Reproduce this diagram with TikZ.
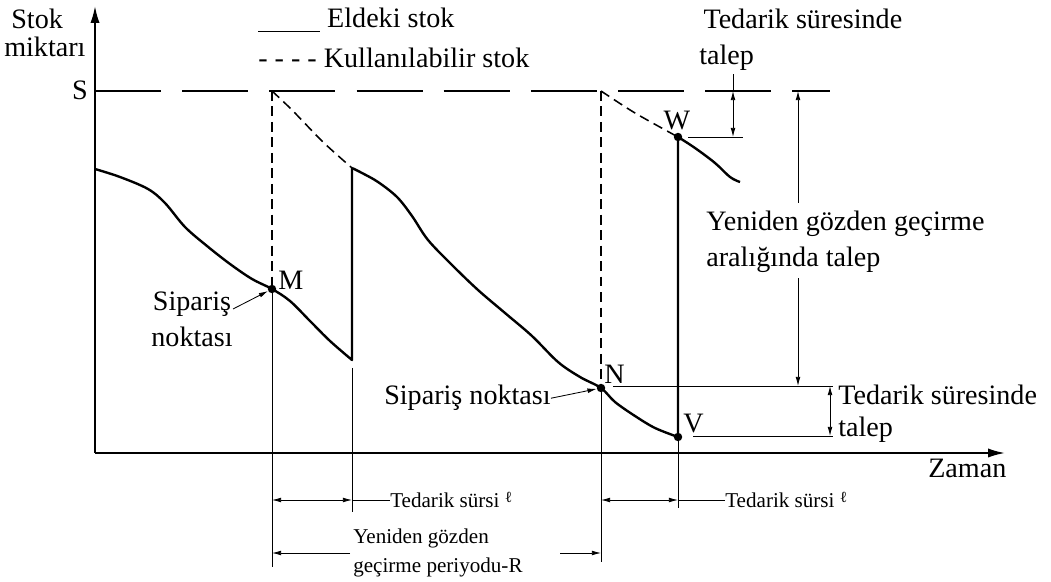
\documentclass[tikz,border=0pt]{standalone}
\usepackage{fontspec}
\setmainfont{Liberation Serif}
\usetikzlibrary{arrows.meta,positioning}
\tikzset{>=latex}
\tikzstyle{axis}=[line width=1.3pt,-{Latex[length=12pt,width=6.5pt]}]
\tikzstyle{onhand}=[line width=1.7pt,line join=round]
\tikzstyle{avail}=[line width=1.1pt,dash pattern=on 7pt off 4pt]
\tikzstyle{level}=[line width=1.1pt,dash pattern=on 47pt off 15pt]
\tikzstyle{guide}=[line width=0.6pt]
\tikzstyle{dim}=[guide,{Latex[length=6.5pt,width=3.4pt]}-{Latex[length=6.5pt,width=3.4pt]}]
\tikzstyle{tip}=[guide,-{Latex[length=6.5pt,width=3.4pt]}]
\tikzstyle{pt}=[circle,fill,inner sep=0,minimum size=6pt]
\tikzstyle{lbl}=[font=\fontsize{20}{26}\selectfont,inner sep=0pt,align=left]
\tikzstyle{small}=[font=\fontsize{15}{20.5}\selectfont,inner sep=0pt,align=left]
\newcommand{\ltsym}{\raisebox{3pt}{\fontsize{11}{11}\selectfont ℓ}}

\begin{document}
\begin{tikzpicture}[x=0.025cm,y=-0.025cm]
  \useasboundingbox (0,0) rectangle (1051,582);

  % axes
  \coordinate (O) at (95,453);
  \coordinate (ytop) at (95,6);
  \coordinate (xend) at (1005,453);
  \draw[axis] (O) -- (ytop);
  \draw[axis] (O) -- (xend);
  % multi-line nodes: base = last line
  \node[lbl,anchor=base west,font=\fontsize{20}{20.5}\selectfont] (ylbl) at (4,57) {\hspace{5pt}Stok\\miktarı};
  \node[lbl,anchor=base west] (xlbl) at (928,478) {Zaman};

  % legend
  \node[lbl,anchor=base west] (leg1) at (258,28) {\rule[-3pt]{44pt}{0.8pt}~Eldeki stok};
  \node[lbl,anchor=base west] (leg2) at (258,68) {- - - - Kullanılabilir stok};

  % S level
  \coordinate (S) at (95,91);
  \coordinate (Send) at (830,91);
  \draw[level] (S) -- (Send);
  \node[lbl,anchor=base east] (slbl) at (88,100) {S};

  % key points
  \coordinate (start) at (95,169);
  \coordinate (M) at (272,289);
  \coordinate (Mlow) at (352,360);
  \coordinate (Mtop) at (352,168);
  \coordinate (N) at (601,388);
  \coordinate (V) at (678,437);
  \coordinate (W) at (678,137);
  \coordinate (Wend) at (740,182);
  \coordinate (SM) at (272,91);
  \coordinate (SN) at (601,91);

  % on-hand stock
  \draw[onhand] plot[smooth,tension=0.55] coordinates {(start) (120,177) (148,189) (165,203)
    (185,227) (207,246) (230,264) (252,279) (M) (290,301) (310,321) (330,341) (Mlow)} -- (Mtop);
  \draw[onhand] plot[smooth,tension=0.55] coordinates {(Mtop) (362,173) (378,182) (397,197)
    (412,216) (428,240) (452,265) (478,290) (505,313) (532,336) (558,362) (580,377) (N)
    (615,402) (635,416) (655,428) (V)} -- (W);
  \draw[onhand] plot[smooth,tension=0.6] coordinates {(W) (695,148) (715,163) (730,177) (Wend)};

  % available stock
  \draw[avail] (SM) -- (M);
  \draw[avail] plot[smooth] coordinates {(SM) (292,110) (323,142) (Mtop)};
  \draw[avail] (SN) -- (N);
  \draw[avail] plot[smooth] coordinates {(SN) (635,113) (W)};

  \node[pt] (pM) at (M) {};
  \node[pt] (pN) at (N) {};
  \node[pt] (pW) at (W) {};
  \node[pt] (pV) at (V) {};
  \node[lbl,anchor=base west] (mlbl) at (278,290) {M};
  \node[lbl,anchor=base west] (nlbl) at (604,384) {N};
  \node[lbl,anchor=base] (wlbl) at (677,130) {W};
  \node[lbl,anchor=base west] (vlbl) at (683,433) {V};

  % order points
  \node[lbl,anchor=base,align=center] (ord1) at (192,347) {Sipariş\\noktası};
  \draw[tip] (233,309) -- (pM);
  \node[lbl,anchor=base west] (ord2) at (384,405) {Sipariş noktası};
  \draw[tip] (ord2.east) -- (pN);

  % guides down to the time axis
  \coordinate (gM) at (272,567);
  \coordinate (gL) at (352,512);
  \coordinate (gN) at (601,562);
  \coordinate (gV) at (678,508);
  \coordinate (gLtop) at (352,368);
  \draw[guide] (M) -- (gM);
  \draw[guide] (gLtop) -- (gL);
  \draw[guide] (N) -- (gN);
  \draw[guide] (V) -- (gV);

  % lead times and review period
  \coordinate (a1) at (272,500);
  \coordinate (a2) at (352,500);
  \coordinate (b1) at (601,500);
  \coordinate (b2) at (678,500);
  \coordinate (r1) at (272,553);
  \coordinate (r2) at (601,553);
  \draw[dim] (a1) -- (a2);
  \draw[dim] (b1) -- (b2);
  \node[small,anchor=base west] (lt1) at (390,507) {Tedarik sürsi \ltsym};
  \node[small,anchor=base west] (lt2) at (725,507) {Tedarik sürsi \ltsym};
  \draw[guide] (a2) -- (lt1.west |- a2);
  \draw[guide] (b2) -- (lt2.west |- b2);
  \node[small,anchor=base west] (rev) at (353,572) {Yeniden gözden\\geçirme periyodu-R};
  \coordinate (r1e) at (350,553);
  \coordinate (r2s) at (560,553);
  \draw[tip] (r1e) -- (r1);
  \draw[tip] (r2s) -- (r2);

  % demand during lead time (top)
  \coordinate (Wl) at (688,137);
  \coordinate (Wr) at (743,137);
  \coordinate (d1a) at (733,91);
  \coordinate (d1b) at (733,137);
  \coordinate (d1c) at (733,74);
  \draw[guide] (Wl) -- (Wr);
  \draw[dim] (d1a) -- (d1b);
  \draw[guide] (d1a) -- (d1c);
  \node[lbl,anchor=base west] (dlt1) at (699,65) {\hspace{3pt}Tedarik süresinde\\talep};

  % demand during review interval
  \coordinate (Nl) at (613,386);
  \coordinate (Nr) at (833,386);
  \coordinate (Vl) at (693,436);
  \coordinate (Vr) at (833,436);
  \coordinate (Rtop) at (798,91);
  \coordinate (Rbot) at (798,386);
  \draw[guide] (Nl) -- (Nr);
  \draw[guide] (Vl) -- (Vr);
  \node[lbl,anchor=base west] (rlbl) at (706,267) {Yeniden gözden geçirme\\aralığında talep};
  \draw[tip] (Rtop |- rlbl.north) ++(0,-8) -- (Rtop);
  \draw[tip] (Rtop |- rlbl.south) ++(0,5) -- (Rbot);

  % demand during lead time (bottom)
  \coordinate (d2a) at (830,386);
  \coordinate (d2b) at (830,436);
  \draw[dim] (d2a) -- (d2b);
  \node[lbl,anchor=base west,font=\fontsize{20}{23}\selectfont] (dlt2) at (838,437) {Tedarik süresinde\\talep};
\end{tikzpicture}
\end{document}
